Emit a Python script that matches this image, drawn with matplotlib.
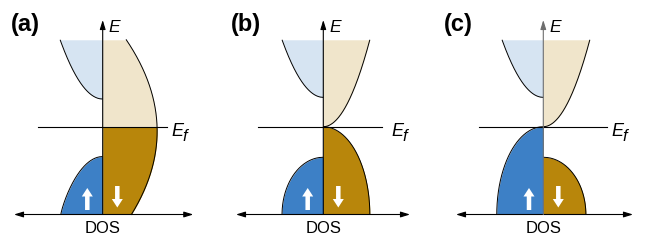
import numpy as np
import matplotlib
matplotlib.use('Agg')
import matplotlib.pyplot as plt
from matplotlib.patches import FancyArrow

plt.rcParams['font.family'] = ['Liberation Sans', 'DejaVu Sans']

# ---------------- data (energies: E_f = 0, DOS axis at -1) ----------------
panel_labels = ['(a)', '(b)', '(c)']
E_top = 0.99          # top of the drawn bands
E_bottom = -1.0       # DOS axis

# spin-up conduction band (light blue): band edge, width at top
up_cb_edge = [0.315, 0.334, 0.334]
up_cb_width = [0.485, 0.47, 0.47]
# spin-down conduction band (tan)
dn_cb_edge = [None, 0.0, 0.0]
dn_cb_width = [None, 0.53, 0.53]
# spin-up valence band (blue): band edge, width at bottom, shape exponent
up_vb_edge = [-0.34, -0.348, 0.0]
up_vb_width = [0.477, 0.47, 0.53]
up_vb_shape = [1.2, 2.0, 2.0]
# spin-down valence band (gold)
dn_vb_edge = [None, 0.0, -0.348]
dn_vb_width = [None, 0.53, 0.485]
dn_vb_shape = [None, 2.0, 2.0]
# panel (a): metallic spin-down band crossing E_f
metal_peak_width = 0.62
metal_peak_energy = -0.05
metal_curvature = 0.325

# ---------------- layout (pixels) ----------------
W_PX, H_PX = 646, 242
U = 87.8                       # pixels per unit
axis_x_px = [102.7, 323.3, 543.3]
ef_y_px = 126.7
label_x_px = [10.5, 231.0, 443.5]
ef_left_px = [-64.4, -65.0, -64.0]
ef_right_px = [64.0, 58.4, 63.4]
dos_left_px = [-88.7, -87.3, -87.3]
dos_right_px = [90.6, 86.7, 89.7]
up_arrow_px = [-15.4, -15.6, -14.3]
dn_arrow_px = [14.6, 15.0, 15.0]
vaxis_color = ['black', 'black', '#6e6e6e']

c_lblue = '#d6e4f2'
c_tan = '#f0e5cb'
c_blue = '#3d80c6'
c_gold = '#b8860b'
LW = 0.7


def band_width(E, edge, far, W, q, p=0.5):
    t = np.clip((E - far) / (edge - far), 0, 1)
    return W * (1 - t ** q) ** p


def draw_band(ax, edge, far, W, q, sign, color):
    E = np.linspace(edge, far, 400)
    x = sign * band_width(E, edge, far, W, q)
    ax.fill_betweenx(E, 0, x, color=color, lw=0, zorder=1)
    ax.plot(x, E, color='black', lw=LW, zorder=2, solid_capstyle='butt')


fig = plt.figure(figsize=(W_PX / 100, H_PX / 100), dpi=100)

for i in range(3):
    x0 = axis_x_px[i]
    ax = fig.add_axes([(x0 - 100) / W_PX, 0, 200 / W_PX, 1])
    ax.set_xlim(-100 / U, 100 / U)
    ax.set_ylim((ef_y_px - H_PX) / U, ef_y_px / U)
    ax.axis('off')

    draw_band(ax, up_cb_edge[i], E_top, up_cb_width[i], 1.0, -1, c_lblue)
    draw_band(ax, up_vb_edge[i], E_bottom, up_vb_width[i], up_vb_shape[i], -1, c_blue)

    if i == 0:
        E = np.linspace(E_bottom, E_top, 600)
        w = metal_peak_width - metal_curvature * (E - metal_peak_energy) ** 2
        ax.fill_betweenx(E, 0, w, where=E >= 0, color=c_tan, lw=0, zorder=1)
        ax.fill_betweenx(E, 0, w, where=E <= 0, color=c_gold, lw=0, zorder=1)
        ax.plot(w, E, color='black', lw=LW, zorder=2)
    else:
        draw_band(ax, dn_cb_edge[i], E_top, dn_cb_width[i], 1.0, 1, c_tan)
        draw_band(ax, dn_vb_edge[i], E_bottom, dn_vb_width[i], dn_vb_shape[i], 1, c_gold)

    # Fermi level
    ax.plot([ef_left_px[i] / U, ef_right_px[i] / U], [0, 0], color='black', lw=0.8, zorder=3)

    # DOS axis (double arrow)
    ax.annotate('', xy=(dos_left_px[i] / U, E_bottom), xytext=(dos_right_px[i] / U, E_bottom),
                arrowprops=dict(arrowstyle='<|-|>,head_length=0.55,head_width=0.17',
                                lw=0.8, color='black', shrinkA=0, shrinkB=0),
                zorder=4)
    # Energy axis
    ax.annotate('', xy=(0, (ef_y_px - 20) / U), xytext=(0, E_bottom),
                arrowprops=dict(arrowstyle='-|>,head_length=0.55,head_width=0.17',
                                lw=0.8, color=vaxis_color[i], shrinkA=0, shrinkB=0),
                zorder=4)

    # spin arrows
    ax.add_patch(FancyArrow(up_arrow_px[i] / U, (ef_y_px - 210) / U, 0, 22 / U,
                            width=4.5 / U, head_width=11 / U, head_length=8.5 / U,
                            length_includes_head=True, fc='white', ec='none', zorder=5))
    ax.add_patch(FancyArrow(dn_arrow_px[i] / U, (ef_y_px - 186) / U, 0, -21.5 / U,
                            width=4.5 / U, head_width=11 / U, head_length=8.5 / U,
                            length_includes_head=True, fc='white', ec='none', zorder=5))

    # labels
    ax.text(6.0 / U, (ef_y_px - 32.5) / U, 'E', fontsize=12.5, style='italic',
            ha='left', va='baseline')
    ax.text(68.5 / U, (ef_y_px - 135.5) / U, 'E', fontsize=13, style='italic',
            ha='left', va='baseline')
    ax.text(79.5 / U, (ef_y_px - 141) / U, 'f', fontsize=12, style='italic',
            ha='left', va='baseline')
    ax.text(0, (ef_y_px - 233.3) / U, 'DOS', fontsize=12, ha='center', va='baseline')

    fig.text(label_x_px[i] / W_PX, 1 - 30.5 / H_PX, panel_labels[i], fontsize=17,
             fontweight='bold', ha='left', va='baseline')

fig.savefig('out.png', dpi=100)
